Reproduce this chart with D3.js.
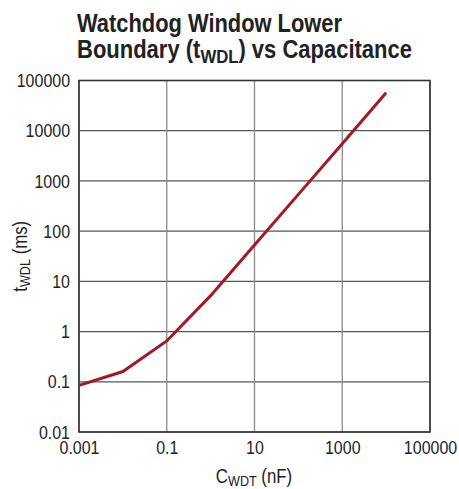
<!DOCTYPE html>
<html>
<head>
<meta charset="utf-8">
<script src="https://cdn.jsdelivr.net/npm/d3@7"></script>
<style>
  body { margin: 0; background: #fff; }
  text { font-family: "Liberation Sans", Arial, sans-serif; fill: #222; }
</style>
</head>
<body>
<div id="chart"></div>
<script>
// capacitance (nF) vs lower window boundary (ms)
var capacitance = [0.001, 0.01, 0.1, 1, 10, 100, 1000, 10000];
var twdl = [0.085, 0.16, 0.65, 5.2, 53, 540, 5500, 57000];
var xTicks = [0.001, 0.1, 10, 1000, 100000];
var yTicks = [0.01, 0.1, 1, 10, 100, 1000, 10000, 100000];

var width = 459, height = 489;
var mLeft = 79, mRight = 430, mTop = 80.5, mBottom = 432;
var squeeze = 0.84; // narrow the glyphs, the original uses a condensed face

var svg = d3.select("#chart").append("svg")
    .attr("width", width)
    .attr("height", height);

var x = d3.scaleLog().domain([0.001, 100000]).range([mLeft, mRight]);
var y = d3.scaleLog().domain([0.01, 100000]).range([mBottom, mTop]);

function narrow(sel) {
    sel.each(function() {
        var w = this.getComputedTextLength();
        d3.select(this).attr("textLength", w * squeeze).attr("lengthAdjust", "spacingAndGlyphs");
    });
}

// title
var t1 = svg.append("text")
    .attr("x", 77).attr("y", 32)
    .attr("font-weight", "bold")
    .attr("font-size", 25)
    .text("Watchdog Window Lower")
    .attr("textLength", 265).attr("lengthAdjust", "spacingAndGlyphs");

var t2 = svg.append("text")
    .attr("x", 77).attr("y", 58)
    .attr("font-weight", "bold")
    .attr("font-size", 25);
t2.append("tspan").text("Boundary (t");
t2.append("tspan").attr("font-size", 19).attr("dy", 5).text("WDL");
t2.append("tspan").attr("dy", -5).text(") vs Capacitance");
t2.attr("textLength", 335).attr("lengthAdjust", "spacingAndGlyphs");

// grid
svg.append("g").selectAll("line")
    .data(yTicks)
    .enter().append("line")
    .attr("x1", mLeft).attr("x2", mRight)
    .attr("y1", function(d) { return y(d); })
    .attr("y2", function(d) { return y(d); })
    .attr("stroke", "#555")
    .attr("stroke-width", 1.2);

svg.append("g").selectAll("line")
    .data(xTicks)
    .enter().append("line")
    .attr("y1", mTop).attr("y2", mBottom)
    .attr("x1", function(d) { return x(d); })
    .attr("x2", function(d) { return x(d); })
    .attr("stroke", "#8a8a8a")
    .attr("stroke-width", 1.3);

// frame
svg.append("rect")
    .attr("x", mLeft).attr("y", mTop)
    .attr("width", mRight - mLeft).attr("height", mBottom - mTop)
    .attr("fill", "none")
    .attr("stroke", "#333")
    .attr("stroke-width", 1.6);

// axes (labels only)
var fmt = function(d) { return String(+d.toPrecision(6)); };
var xAxis = d3.axisBottom(x).tickValues(xTicks).tickSize(0).tickPadding(9).tickFormat(fmt);
var gx = svg.append("g").attr("transform", "translate(0," + mBottom + ")").call(xAxis);
gx.select(".domain").remove();
gx.selectAll("text").attr("font-size", 19).attr("fill", "#222")
    .style("font-family", "'Liberation Sans', sans-serif");
narrow(gx.selectAll("text"));

var yAxis = d3.axisLeft(y).tickValues(yTicks).tickSize(0).tickPadding(9).tickFormat(fmt);
var gy = svg.append("g").attr("transform", "translate(" + mLeft + ",0)").call(yAxis);
gy.select(".domain").remove();
gy.selectAll("text").attr("font-size", 19).attr("fill", "#222")
    .style("font-family", "'Liberation Sans', sans-serif");
narrow(gy.selectAll("text"));

// axis titles
var xt = svg.append("text")
    .attr("x", 254).attr("y", 483)
    .attr("text-anchor", "middle")
    .attr("font-size", 20);
xt.append("tspan").text("C");
xt.append("tspan").attr("font-size", 15).attr("dy", 3).text("WDT");
xt.append("tspan").attr("dy", -3).text(" (nF)");
narrow(xt);

var yt = svg.append("text")
    .attr("transform", "translate(27," + ((mTop + mBottom) / 2) + ") rotate(-90)")
    .attr("text-anchor", "middle")
    .attr("font-size", 20);
yt.append("tspan").text("t");
yt.append("tspan").attr("font-size", 15).attr("dy", 3).text("WDL");
yt.append("tspan").attr("dy", -3).text(" (ms)");
narrow(yt);

// curve
var pts = capacitance.map(function(c, i) { return [c, twdl[i]]; });
var line = d3.line()
    .x(function(d) { return x(d[0]); })
    .y(function(d) { return y(d[1]); });

svg.append("path")
    .datum(pts)
    .attr("d", line)
    .attr("fill", "none")
    .attr("stroke", "#a01c22")
    .attr("stroke-width", 3);
</script>
</body>
</html>
